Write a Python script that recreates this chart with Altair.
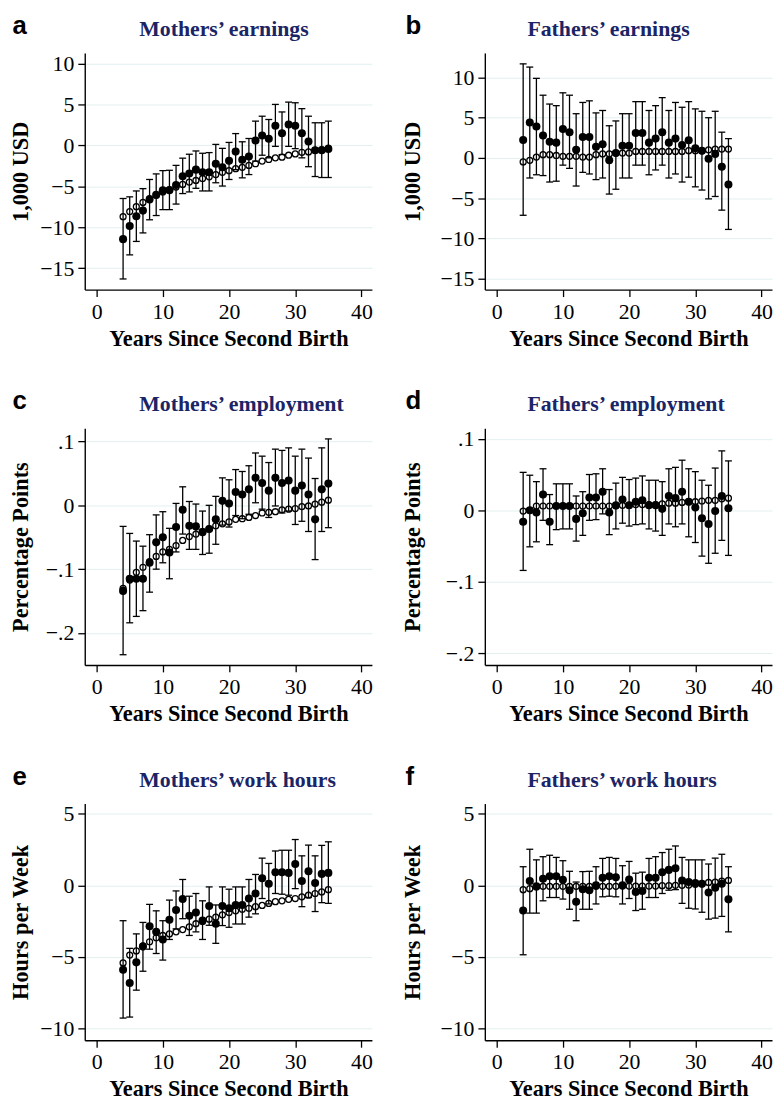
import altair as alt
import pandas as pd

years = list(range(4, 36))

# Panel a: Mothers' earnings (1,000 USD)
a_est = [-11.44, -9.84, -8.64, -7.96, -6.6, -6.04, -5.48, -5.48,
         -4.84, -3.76, -3.44, -2.96, -3.28, -3.28, -2.24, -2.68,
         -1.88, -0.76, -1.76, -1.36, 0.6, 1.2, 0.8, 2.4,
         1.48, 2.56, 2.4, 1.48, 0.48, -0.6, -0.6, -0.44]
a_lo = [-16.3, -13.36, -11.72, -10.68, -9.08, -8.56, -7.84, -7.84,
        -7.16, -5.88, -5.68, -5.24, -5.56, -5.56, -4.56, -4.96,
        -4.16, -2.96, -3.96, -3.56, -1.92, -1.2, -1.52, -0.12,
        -1.12, -0.12, -0.4, -1.52, -2.6, -3.8, -3.92, -3.92]
a_hi = [-6.48, -6.28, -5.56, -5.28, -4.16, -3.48, -3.08, -3.04,
        -2.44, -1.56, -1.08, -0.68, -0.96, -0.88, 0.12, -0.36,
        0.36, 1.44, 0.44, 0.84, 2.96, 3.56, 3.16, 5.0,
        4.08, 5.28, 5.2, 4.48, 3.56, 2.76, 2.76, 2.96]
a_base = [-8.7, -8.08, -7.48, -6.96, -6.48, -6.04, -5.68, -5.4,
          -5.08, -4.76, -4.48, -4.28, -4.04, -3.84, -3.56, -3.28,
          -3.08, -2.84, -2.68, -2.44, -2.24, -1.92, -1.72, -1.52,
          -1.44, -1.2, -1.04, -0.84, -0.8, -0.6, -0.52, -0.32]

# Panel b: Fathers' earnings
b_est = [2.24, 4.4, 3.9, 2.8, 2.0, 1.9, 3.6, 3.2,
         1.0, 2.6, 2.6, 1.4, 1.7, -0.3, 0.6, 1.5,
         1.5, 3.1, 3.1, 1.9, 2.4, 3.2, 1.9, 2.4,
         1.6, 2.2, 1.2, 0.9, -0.1, 0.5, -1.1, -3.3]
b_lo = [-7.14, -2.5, -2.1, -2.2, -3.0, -2.9, -0.9, -1.3,
        -3.5, -1.8, -2.0, -2.7, -2.5, -4.5, -3.9, -2.5,
        -2.5, -0.9, -0.9, -2.1, -1.5, -0.9, -2.5, -2.0,
        -3.0, -2.4, -3.6, -4.0, -5.1, -4.8, -6.5, -8.9]
b_hi = [11.7, 11.3, 9.9, 7.8, 6.7, 6.5, 8.1, 7.8,
        5.5, 6.9, 7.1, 5.6, 5.9, 4.0, 4.6, 5.5,
        5.5, 7.0, 7.0, 5.9, 6.5, 7.5, 5.9, 6.9,
        6.3, 7.0, 6.1, 5.8, 5.0, 5.8, 3.2, 2.4]
b_base = [-0.5, -0.3, 0.1, 0.4, 0.4, 0.3, 0.2, 0.2,
          0.2, 0.1, 0.1, 0.4, 0.5, 0.5, 0.6, 0.6,
          0.6, 0.8, 0.8, 0.8, 0.8, 0.8, 0.8, 0.8,
          0.8, 0.9, 0.9, 0.9, 1.0, 1.1, 1.1, 1.1]

# Panel c: Mothers' employment
c_est = [-0.134, -0.115, -0.115, -0.115, -0.09, -0.058, -0.05, -0.074,
         -0.034, -0.007, -0.032, -0.033, -0.042, -0.037, -0.022, 0.007,
         0.003, 0.021, 0.017, 0.025, 0.043, 0.035, 0.023, 0.043,
         0.035, 0.039, 0.023, 0.031, 0.017, -0.022, 0.025, 0.034]
c_lo = [-0.234, -0.184, -0.174, -0.165, -0.136, -0.1, -0.09, -0.115,
        -0.073, -0.045, -0.069, -0.069, -0.077, -0.075, -0.061, -0.031,
        -0.034, -0.016, -0.021, -0.014, 0.004, -0.006, -0.019, -0.001,
        -0.012, -0.009, -0.03, -0.025, -0.041, -0.085, -0.041, -0.035]
c_hi = [-0.033, -0.044, -0.056, -0.064, -0.046, -0.015, -0.01, -0.036,
        0.003, 0.029, 0.006, 0.002, -0.009, 0.0, 0.014, 0.043,
        0.04, 0.056, 0.053, 0.062, 0.082, 0.077, 0.067, 0.088,
        0.086, 0.09, 0.077, 0.088, 0.074, 0.042, 0.09, 0.104]
c_base = [-0.13, -0.117, -0.105, -0.097, -0.088, -0.08, -0.073, -0.069,
          -0.063, -0.055, -0.049, -0.045, -0.041, -0.037, -0.032, -0.029,
          -0.026, -0.022, -0.021, -0.019, -0.016, -0.012, -0.011, -0.01,
          -0.007, -0.006, -0.005, -0.002, -0.001, 0.002, 0.005, 0.008]

# Panel d: Fathers' employment
d_est = [-0.016, 0.0, -0.003, 0.022, -0.016, 0.006, 0.006, 0.006,
         -0.012, -0.004, 0.018, 0.018, 0.026, -0.003, 0.007, 0.015,
         0.007, 0.012, 0.014, 0.007, 0.007, 0.002, 0.02, 0.017,
         0.026, 0.012, 0.004, -0.011, -0.019, -0.001, 0.02, 0.003]
d_lo = [-0.084, -0.051, -0.044, -0.014, -0.048, -0.027, -0.026, -0.026,
        -0.043, -0.035, -0.014, -0.013, -0.005, -0.034, -0.026, -0.018,
        -0.022, -0.02, -0.019, -0.026, -0.029, -0.035, -0.019, -0.023,
        -0.019, -0.037, -0.045, -0.064, -0.074, -0.06, -0.042, -0.063]
d_hi = [0.053, 0.049, 0.04, 0.058, 0.022, 0.037, 0.037, 0.037,
        0.02, 0.026, 0.05, 0.051, 0.058, 0.029, 0.038, 0.046,
        0.043, 0.045, 0.048, 0.042, 0.042, 0.04, 0.058, 0.06,
        0.07, 0.058, 0.054, 0.042, 0.035, 0.059, 0.083, 0.069]
d_base = [-0.001, 0.0, 0.006, 0.006, 0.006, 0.006, 0.006, 0.006,
          0.006, 0.006, 0.006, 0.006, 0.006, 0.006, 0.006, 0.007,
          0.007, 0.008, 0.008, 0.008, 0.008, 0.009, 0.01, 0.01,
          0.011, 0.012, 0.012, 0.013, 0.014, 0.014, 0.016, 0.017]

# Panel e: Mothers' work hours
e_est = [-5.9, -6.82, -5.38, -4.28, -2.86, -3.25, -3.78, -2.4,
         -1.72, -0.96, -2.13, -1.9, -2.45, -1.44, -2.68, -1.44,
         -1.6, -1.37, -1.37, -0.92, -0.57, 0.5, 0.11, 0.92,
         0.92, 0.87, 1.49, 0.3, 0.98, 0.16, 0.8, 0.87]
e_lo = [-9.27, -9.2, -7.32, -6.0, -4.46, -4.76, -5.22, -3.78,
        -3.04, -2.33, -3.5, -3.25, -3.78, -2.79, -4.05, -2.81,
        -2.93, -2.7, -2.7, -2.22, -1.99, -0.92, -1.3, -0.57,
        -0.62, -0.69, -0.23, -1.49, -0.85, -1.83, -1.21, -1.26]
e_hi = [-2.47, -4.4, -3.39, -2.59, -1.33, -1.78, -2.47, -1.03,
        -0.39, 0.41, -0.76, -0.57, -1.08, -0.11, -1.37, -0.11,
        -0.27, -0.11, -0.11, 0.41, 0.76, 1.9, 1.53, 2.4,
        2.45, 2.45, 3.2, 2.06, 2.81, 2.06, 2.79, 3.04]
e_base = [-5.42, -4.87, -4.58, -4.23, -3.94, -3.66, -3.5, -3.39,
          -3.25, -3.09, -2.9, -2.68, -2.52, -2.36, -2.22, -2.06,
          -1.9, -1.78, -1.67, -1.6, -1.49, -1.4, -1.26, -1.14,
          -1.08, -0.98, -0.92, -0.8, -0.69, -0.57, -0.46, -0.3]

# Panel f: Fathers' work hours
f_est = [-1.76, 0.3, -0.07, 0.46, 0.64, 0.64, 0.39, -0.34,
         -1.14, -0.27, -0.34, 0.0, 0.53, 0.64, 0.57, 0.0,
         0.41, -0.46, -0.39, 0.53, 0.53, 0.92, 1.08, 1.19,
         0.34, 0.23, 0.16, 0.11, -0.5, -0.16, 0.11, -0.98]
f_lo = [-4.85, -1.94, -1.94, -1.08, -0.85, -0.85, -0.96, -1.67,
        -2.47, -1.67, -1.67, -1.3, -0.8, -0.76, -0.8, -1.3,
        -0.92, -1.76, -1.67, -0.85, -0.85, -0.57, -0.34, -0.3,
        -1.26, -1.6, -1.65, -1.88, -2.36, -2.29, -2.17, -3.25]
f_hi = [1.3, 2.52, 1.78, 2.0, 2.1, 1.95, 1.72, 0.98,
        0.23, 0.96, 0.98, 1.3, 1.88, 1.95, 1.88, 1.37,
        1.67, 0.85, 0.92, 1.88, 2.0, 2.29, 2.52, 2.75,
        1.95, 1.78, 1.78, 1.78, 1.49, 1.9, 2.17, 1.3]
f_base = [-0.3, -0.23, -0.11, -0.07, -0.07, -0.07, -0.07, -0.07,
          -0.07, -0.07, -0.07, -0.07, -0.07, -0.07, -0.07, -0.05,
          -0.05, -0.05, -0.05, -0.05, -0.05, -0.02, -0.02, 0.0,
          0.0, 0.02, 0.07, 0.11, 0.2, 0.23, 0.3, 0.34]

x_ticks = [0, 10, 20, 30, 40]
earn_ticks = [-15, -10, -5, 0, 5, 10]
emp_ticks = [-0.2, -0.1, 0, 0.1]
hour_ticks = [-10, -5, 0, 5]

SERIF = "Liberation Serif"
SANS = "Liberation Sans"
NAVY = "#1b2566"
GRID = "#e3f0f0"
W, H = 290, 239


def panel(est, lo, hi, base, ydom, yticks, ytitle, title, letter, right,
          frac=False, anchor=False):
    df = pd.DataFrame({"x": years, "est": est, "lo": lo, "hi": hi, "base": base})
    xs = alt.Scale(domain=[-1.79, 41.58], nice=False, zero=False)
    ys = alt.Scale(domain=ydom, nice=False, zero=False)
    xaxis = alt.Axis(values=x_ticks, title="Years Since Second Birth", grid=False,
                     titleY=56, titleBaseline="alphabetic", labelPadding=5,
                     labelFlush=False, labelOverlap=False)
    ykw = dict(values=yticks, title=ytitle, grid=True, gridColor=GRID, gridWidth=1,
               titleX=(-66 if right else -58), titleY=H / 2, titleBaseline="alphabetic",
               labelPadding=4, labelFlush=False, labelOverlap=False, labelAngle=0)
    if frac:
        ykw["labelExpr"] = ("datum.value == 0 ? '0' : "
                            "replace(format(datum.value, '.1f'), '0.', '.')")
    yaxis = alt.Axis(**ykw)

    def X():
        return alt.X("x:Q", scale=xs, axis=xaxis)

    def Y(f):
        return alt.Y(f"{f}:Q", scale=ys, axis=yaxis)

    ch = alt.Chart(df)
    bars = ch.mark_rule(color="black", strokeWidth=1.3).encode(x=X(), y=Y("lo"), y2="hi:Q")
    cap_hi = ch.mark_rule(color="black", strokeWidth=1.3, xOffset=-3.5, x2Offset=3.5).encode(
        x=X(), x2="x:Q", y=Y("hi"))
    cap_lo = ch.mark_rule(color="black", strokeWidth=1.3, xOffset=-3.5, x2Offset=3.5).encode(
        x=X(), x2="x:Q", y=Y("lo"))
    hollow = ch.mark_point(shape="circle", filled=False, color="black", size=36,
                           strokeWidth=1.3, opacity=1).encode(x=X(), y=Y("base"))
    filled = ch.mark_circle(color="black", size=66, opacity=1).encode(x=X(), y=Y("est"))

    ttl = alt.Chart(pd.DataFrame({"t": [title]})).mark_text(
        align="left", baseline="alphabetic", font=SERIF, fontSize=22,
        fontWeight="bold", color=NAVY).encode(
        text="t:N", x=alt.value(43 if right else 55), y=alt.value(-17))
    let = alt.Chart(pd.DataFrame({"t": [letter]})).mark_text(
        align="left", baseline="alphabetic", font=SANS, fontSize=26,
        fontWeight="bold", color="black").encode(
        text="t:N", x=alt.value(-80 if right else -73), y=alt.value(-19))

    layers = [bars, cap_hi, cap_lo, hollow, filled, ttl, let]
    if anchor:
        # invisible layout anchor fixing the page's top-left corner
        layers.append(alt.Chart(pd.DataFrame({"t": [0]})).mark_rule(
            color="white", opacity=0, strokeWidth=1).encode(
            x=alt.value(-90), x2=alt.value(-90), y=alt.value(-60), y2=alt.value(-59)))
    return alt.layer(*layers).properties(width=W, height=H)


pa = panel(a_est, a_lo, a_hi, a_base, [-17.6, 11.28], earn_ticks, "1,000 USD",
           "Mothers\u2019 earnings", "a", False, anchor=True)
pb = panel(b_est, b_lo, b_hi, b_base, [-16.39, 13.06], earn_ticks, "1,000 USD",
           "Fathers\u2019 earnings", "b", True)
pc = panel(c_est, c_lo, c_hi, c_base, [-0.25, 0.1207], emp_ticks, "Percentage Points",
           "Mothers\u2019 employment", "c", False, frac=True)
pd_ = panel(d_est, d_lo, d_hi, d_base, [-0.216, 0.1146], emp_ticks, "Percentage Points",
            "Fathers\u2019 employment", "d", True, frac=True)
pe = panel(e_est, e_lo, e_hi, e_base, [-10.82, 5.71], hour_ticks, "Hours per Week",
           "Mothers\u2019 work hours", "e", False)
pf = panel(f_est, f_lo, f_hi, f_base, [-10.82, 5.71], hour_ticks, "Hours per Week",
           "Fathers\u2019 work hours", "f", True)

chart = alt.concat(pa, pb, pc, pd_, pe, pf, columns=2,
                   spacing={"row": 140, "column": 114}, bounds="flush",
                   padding={"left": -12.5, "top": -20, "right": 0, "bottom": 0},
                   background="white").configure_axis(
    domainColor="black", domainWidth=1.4, tickColor="black", tickWidth=1.3, tickSize=7,
    labelFont=SERIF, labelFontSize=22, labelColor="black",
    titleFont=SERIF, titleFontSize=22.5, titleFontWeight="bold", titleColor="black",
).configure_view(stroke=None)

chart.save("out.html", embed_options={"renderer": "svg", "actions": False})
